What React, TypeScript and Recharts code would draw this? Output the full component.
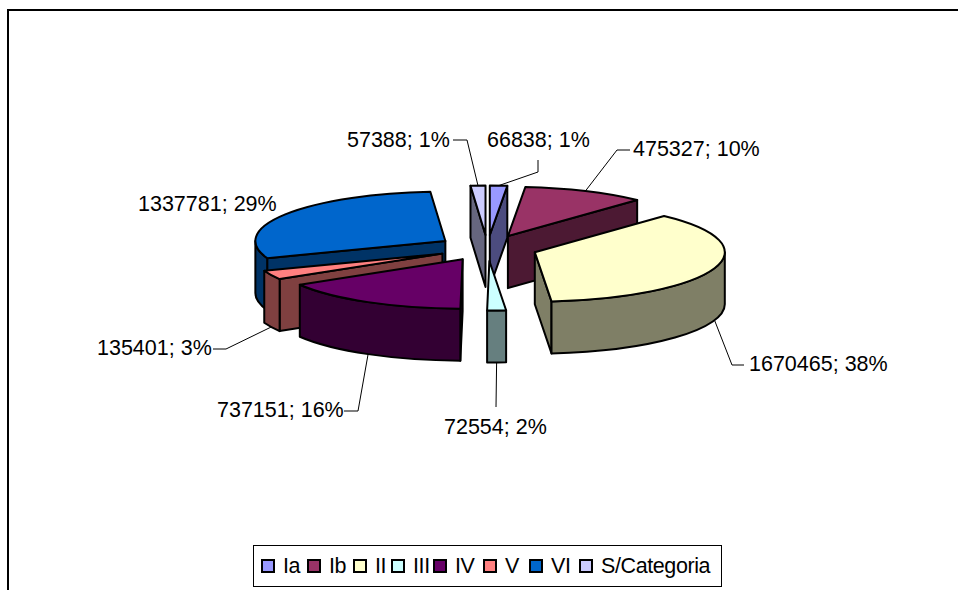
import { Legend, Pie, PieChart } from 'recharts';

const categories = ['Ia', 'Ib', 'II', 'III', 'IV', 'V', 'VI', 'S/Categoria'];
const values = [66838, 475327, 1670465, 72554, 737151, 135401, 1337781, 57388];
const percents = ['1%', '10%', '38%', '2%', '16%', '3%', '29%', '1%'];
const topColors = ['#9999FF', '#993366', '#FFFFCC', '#CCFFFF', '#660066', '#FF8080', '#0066CC', '#CCCCFF'];
const sideColors = ['#4C4C7F', '#4C1933', '#7F7F66', '#667F7F', '#330033', '#7F4040', '#003366', '#66667F'];

// back to front, svg has no z-index
const paintOrder = [0, 7, 1, 6, 5, 4, 3, 2];

const data = categories.map((name, i) => ({ name, value: values[i], fill: topColors[i] }));

const FONT = '"Liberation Sans", Arial, sans-serif';
const FONT_SIZE = 21.5;
const TILT = 0.26;
const EXPLODE = 50;
const DEPTH = 52;
const RADIUS = 190;

// text left + baseline, then the leader elbow and its end by the text
const labelLayout = [
  { x: 487, y: 147, leader: [[538, 172], [538, 160]] },
  { x: 633, y: 156, leader: [[617, 150], [630, 150]] },
  { x: 749, y: 371, leader: [[732, 365], [744, 365]] },
  { x: 444, y: 434, leader: [[496, 407]] },
  { x: 217, y: 417, leader: [[358, 411], [344, 411]] },
  { x: 97, y: 355, leader: [[226, 349], [213, 349]] },
  { x: 138, y: 211, leader: [] },
  { x: 347, y: 147, leader: [[467, 140], [453, 140]] },
];
const legendSlots = [46, 46, 38, 42, 50, 46, 50, 140];

const rad = (deg: number) => (deg * Math.PI) / 180;

// explosion moves the apex along the slice's middle direction
function apexOf(p: any) {
  const mid = (p.startAngle + p.endAngle) / 2;
  return {
    x: p.cx + EXPLODE * Math.cos(rad(mid)),
    y: p.cy - EXPLODE * TILT * Math.sin(rad(mid)),
  };
}

function rimPoint(p: any, deg: number, drop = 0) {
  const a = apexOf(p);
  return {
    x: a.x + p.outerRadius * Math.cos(rad(deg)),
    y: a.y - p.outerRadius * TILT * Math.sin(rad(deg)) + drop,
  };
}

function Slice3D(p: any) {
  const { startAngle: s, endAngle: e, outerRadius: r } = p;
  const a = apexOf(p);
  const ps = rimPoint(p, s);
  const pe = rimPoint(p, e);
  const ry = r * TILT;
  const large = s - e > 180 ? 1 : 0;
  const side = sideColors[p.index];
  const common = { stroke: '#000', strokeWidth: 2, strokeLinejoin: 'round' as const };

  const walls: string[] = [];
  if (Math.cos(rad(s)) < 0) {
    walls.push(`M${a.x},${a.y} L${ps.x},${ps.y} L${ps.x},${ps.y + DEPTH} L${a.x},${a.y + DEPTH} Z`);
  }
  if (Math.cos(rad(e)) > 0) {
    walls.push(`M${a.x},${a.y} L${pe.x},${pe.y} L${pe.x},${pe.y + DEPTH} L${a.x},${a.y + DEPTH} Z`);
  }

  // outer wall only shows on the front half of the ellipse
  const hi = Math.min(s, 0);
  const lo = Math.max(e, -180);
  let rimWall = '';
  if (hi > lo) {
    const h = rimPoint(p, hi);
    const l = rimPoint(p, lo);
    rimWall = `M${h.x},${h.y} A${r},${ry} 0 0 1 ${l.x},${l.y} L${l.x},${l.y + DEPTH} A${r},${ry} 0 0 0 ${h.x},${h.y + DEPTH} Z`;
  }

  return (
    <g>
      {walls.map((d, i) => (
        <path key={i} d={d} fill={side} {...common} />
      ))}
      {rimWall && <path d={rimWall} fill={side} {...common} />}
      <path d={`M${a.x},${a.y} L${ps.x},${ps.y} A${r},${ry} 0 ${large} 1 ${pe.x},${pe.y} Z`} fill={topColors[p.index]} {...common} />
    </g>
  );
}

function renderLabel(p: any) {
  const i = p.index;
  const layout = labelLayout[i];
  const mid = (p.startAngle + p.endAngle) / 2;
  const front = Math.sin(rad(mid)) < 0;
  const start = rimPoint({ ...p, outerRadius: RADIUS }, mid, front ? DEPTH : 0);
  const pts = [[start.x, start.y], ...layout.leader];
  return (
    <g key={i}>
      {layout.leader.length > 0 && (
        <polyline points={pts.map((q) => q.join(',')).join(' ')} fill="none" stroke="#000" strokeWidth={1} />
      )}
      <text x={layout.x} y={layout.y} fontFamily={FONT} fontSize={FONT_SIZE} fill="#000" textAnchor="start">
        {`${values[i]}; ${percents[i]}`}
      </text>
    </g>
  );
}

function LegendBox({ payload }: any) {
  // every Pie reports its own entries, keep one per category
  const items = categories.map((name) => (payload || []).find((item: any) => item.value === name)).filter(Boolean);
  return (
    <div
      style={{
        boxSizing: 'border-box',
        width: 469,
        height: 42,
        border: '1.5px solid #000',
        background: '#fff',
        display: 'flex',
        alignItems: 'center',
        paddingLeft: 7,
        fontFamily: FONT,
        fontSize: FONT_SIZE,
        letterSpacing: -0.4,
        color: '#000',
      }}
    >
      {items.map((item: any, i: number) => (
        <div key={item.value} style={{ width: legendSlots[i], flex: 'none', display: 'flex', alignItems: 'center' }}>
          <span
            style={{
              boxSizing: 'border-box',
              width: 14,
              height: 14,
              marginRight: 8,
              border: '2px solid #000',
              background: topColors[i],
              flex: 'none',
            }}
          />
          {item.value}
        </div>
      ))}
    </div>
  );
}

const pieProps = {
  data,
  dataKey: 'value',
  nameKey: 'name',
  cx: 487.5,
  cy: 248,
  outerRadius: RADIUS,
  startAngle: 90,
  endAngle: -270,
  stroke: 'none',
  isAnimationActive: false,
};

export default function App() {
  return (
    <div style={{ position: 'absolute', left: 0, top: 0, width: 958, height: 590, background: '#fff', overflow: 'hidden' }}>
      <div
        style={{
          position: 'absolute',
          left: 7,
          top: 9,
          width: 951,
          height: 581,
          boxSizing: 'border-box',
          borderTop: '2px solid #000',
          borderLeft: '2px solid #000',
        }}
      />
      <PieChart width={958} height={590} margin={{ top: 0, right: 0, bottom: 0, left: 0 }}>
        {paintOrder.map((idx) => (
          <Pie
            key={idx}
            {...pieProps}
            legendType="none"
            shape={(p: any) => (p.index === idx ? <Slice3D {...p} /> : <g />)}
          />
        ))}
        <Pie
          key="labels"
          {...pieProps}
          shape={() => <g />}
          labelLine={false}
          label={renderLabel}
        />
        <Legend
          content={<LegendBox />}
          wrapperStyle={{ position: 'absolute', left: 253, top: 545, width: 469, height: 42, bottom: 'auto' }}
        />
      </PieChart>
    </div>
  );
}
